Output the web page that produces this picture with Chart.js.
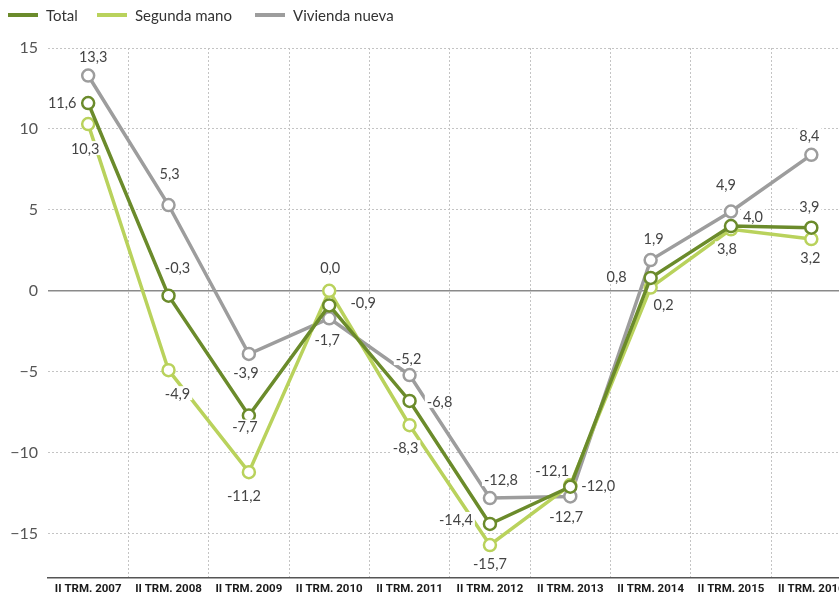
<!DOCTYPE html>
<html>
<head>
<meta charset="utf-8">
<script src="https://cdn.jsdelivr.net/npm/chart.js@4/dist/chart.umd.min.js"></script>
<style>
  body { margin: 0; background: #fff; overflow: hidden; width: 839px; height: 597px; position: relative; font-family: Lato, sans-serif; }
  #wrap { position: absolute; left: 0; top: 0; width: 860px; height: 597px; }
  .legend-item { position: absolute; top: 6px; font-size: 15px; color: #333; display: flex; align-items: center; z-index: 2; }
  .legend-item .sw { display: inline-block; width: 30px; height: 4px; margin-right: 8px; }
</style>
</head>
<body>
<div class="legend-item" style="left:8px"><span class="sw" style="background:#6b8b2b"></span>Total</div>
<div class="legend-item" style="left:97px"><span class="sw" style="background:#b9d25c"></span>Segunda mano</div>
<div class="legend-item" style="left:255px"><span class="sw" style="background:#9d9d9d"></span>Vivienda nueva</div>
<div id="wrap"><canvas id="chart" width="860" height="597"></canvas></div>
<script>
// Data
const categories = ['II TRM. 2007', 'II TRM. 2008', 'II TRM. 2009', 'II TRM. 2010', 'II TRM. 2011',
                    'II TRM. 2012', 'II TRM. 2013', 'II TRM. 2014', 'II TRM. 2015', 'II TRM. 2016'];
const total = [11.6, -0.3, -7.7, -0.9, -6.8, -14.4, -12.1, 0.8, 4.0, 3.9];
const segundaMano = [10.3, -4.9, -11.2, 0.0, -8.3, -15.7, -12.0, 0.2, 3.8, 3.2];
const viviendaNueva = [13.3, 5.3, -3.9, -1.7, -5.2, -12.8, -12.7, 1.9, 4.9, 8.4];
const yTicks = [-15, -10, -5, 0, 5, 10, 15];

// label offsets (dx, dy) from each point
const totalLabelPos = [[-26, -1], [9, -28], [-4, 11], [34, -3], [30, 0], [-34, -5], [-18, -16], [-34, -2], [22, -10], [-2, -21]];
const segundaLabelPos = [[-3, 24], [9, 23], [-5, 23], [1, -24], [-4, 22], [0, 18], [28, 0], [13, 17], [-4, 19], [-1, 18]];
const viviendaLabelPos = [[5, -19], [1, -32], [-3, 18], [-2, 21], [-1, -17], [11, -19], [-4, 20], [3, -22], [-5, -27], [-2, -20]];

const fmt = v => v.toFixed(1).replace('.', ',');

// Value labels with white background
const valueLabels = {
    id: 'valueLabels',
    afterDatasetsDraw(chart) {
        const ctx = chart.ctx;
        ctx.save();
        ctx.font = '14.5px Lato';
        ctx.textAlign = 'center';
        ctx.textBaseline = 'middle';
        chart.data.datasets.forEach((ds, i) => {
            const meta = chart.getDatasetMeta(i);
            meta.data.forEach((pt, j) => {
                const txt = fmt(ds.data[j]);
                const off = ds.labelPos[j];
                const x = pt.x + off[0];
                const y = pt.y + off[1];
                const w = ctx.measureText(txt).width;
                ctx.fillStyle = '#fff';
                ctx.fillRect(x - w / 2 - 2, y - 7, w + 4, 14);
                ctx.fillStyle = '#444';
                ctx.fillText(txt, x, y + 1);
            });
        });
        ctx.restore();
    }
};

const lineStyle = color => ({
    borderColor: color,
    backgroundColor: color,
    borderWidth: 3.5,
    pointRadius: 6,
    pointBorderWidth: 2.5,
    pointBackgroundColor: '#fff',
    pointBorderColor: color,
    tension: 0
});

const chart = new Chart(document.getElementById('chart').getContext('2d'), {
    type: 'line',
    data: {
        labels: categories,
        datasets: [
            { label: 'Total', data: total, labelPos: totalLabelPos, ...lineStyle('#6b8b2b') },
            { label: 'Segunda mano', data: segundaMano, labelPos: segundaLabelPos, ...lineStyle('#b9d25c') },
            { label: 'Vivienda nueva', data: viviendaNueva, labelPos: viviendaLabelPos, ...lineStyle('#9d9d9d') }
        ]
    },
    options: {
        responsive: false,
        animation: false,
        layout: { padding: { top: 48, right: 8, left: 0, bottom: 0 } },
        plugins: {
            legend: { display: false },
            tooltip: { enabled: false }
        },
        scales: {
            x: {
                offset: true,
                grid: {
                    offset: true,
                    drawTicks: false,
                    color: ctx => ctx.index === 0 ? 'rgba(0,0,0,0)' : '#c4c4c4',
                    lineWidth: 1
                },
                border: { display: true, color: '#555', width: 1.5, dash: [2, 2] },
                ticks: {
                    color: '#1a1a1a',
                    font: { family: 'Roboto', weight: 'bold', size: 11.5 },
                    padding: 5,
                    maxRotation: 0,
                    autoSkip: false
                },
                afterFit: scale => { scale.height = 19; }
            },
            y: {
                min: -17.7,
                max: 15,
                afterBuildTicks: scale => { scale.ticks = yTicks.map(v => ({ value: v })); },
                afterFit: scale => { scale.width = 48; },
                grid: {
                    drawTicks: false,
                    color: ctx => ctx.tick && ctx.tick.value === 0 ? '#8a8a8a' : '#c4c4c4',
                    lineWidth: ctx => ctx.tick && ctx.tick.value === 0 ? 1.5 : 1
                },
                border: {
                    display: false,
                    dash: ctx => ctx.tick && ctx.tick.value === 0 ? [] : [2, 2]
                },
                ticks: {
                    color: '#555',
                    font: { family: 'Lato', size: 16 },
                    padding: 10,
                    callback: v => v < 0 ? '\u2212' + Math.abs(v) : String(v)
                }
            }
        }
    },
    plugins: [valueLabels]
});
</script>
</body>
</html>
